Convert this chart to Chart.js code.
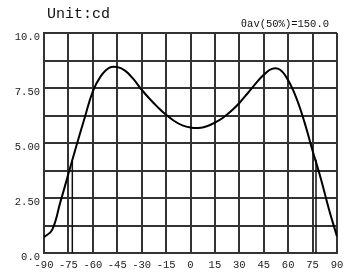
<!DOCTYPE html>
<html>
<head>
<meta charset="utf-8">
<script src="https://cdn.jsdelivr.net/npm/chart.js@4/dist/chart.umd.min.js"></script>
<style>
  html, body { margin: 0; padding: 0; background: #fff; }
  #wrap { width: 352px; height: 273px; }
</style>
</head>
<body>
<div id="wrap"><canvas id="lightChart"></canvas></div>
<script>
// Luminous intensity distribution (cd) vs angle
const angles = [-90, -85, -80, -75, -70, -65, -60, -55, -50, -45, -40, -35, -30, -25, -20, -15, -10, -5, 0, 5, 10, 15, 20, 25, 30, 35, 40, 45, 50, 55, 60, 65, 70, 75, 80, 85, 90];
const intensity = [0.72, 1.05, 2.3, 3.6, 4.9, 6.15, 7.35, 8.05, 8.42, 8.45, 8.28, 7.9, 7.42, 7.0, 6.62, 6.28, 6.0, 5.8, 5.7, 5.68, 5.76, 5.93, 6.15, 6.45, 6.82, 7.25, 7.7, 8.1, 8.37, 8.33, 7.85, 7.05, 5.95, 4.65, 3.4, 2.0, 0.75];

// half-intensity angles (50% of peak)
const halfAngles = [-72.6, 77.1];
const halfValue = 4.24;

const yTickLabels = { '10': '10.0', '7.5': '7.50', '5': '5.00', '2.5': '2.50', '0': '0.0' };
const titleText = 'Unit:cd';
const noteText = 'θav(50%)=150.0';

const gridColor = '#333';
const monoFont = '"Liberation Mono", "DejaVu Sans Mono", monospace';

const curvePoints = angles.map((a, i) => ({ x: a, y: intensity[i] }));

const halfDatasets = halfAngles.map(a => ({
    data: [{ x: a, y: 0 }, { x: a, y: halfValue }],
    borderColor: '#111',
    borderWidth: 1.5,
    pointRadius: 0,
    tension: 0
}));

// header texts drawn above the plot
const headerPlugin = {
    id: 'header',
    afterDraw(chart) {
        const ctx = chart.ctx;
        ctx.save();
        ctx.fillStyle = '#111';
        ctx.textBaseline = 'alphabetic';
        ctx.font = '15px ' + monoFont;
        ctx.textAlign = 'left';
        ctx.fillText(titleText, 47, 18);
        ctx.font = '10.5px ' + monoFont;
        ctx.textAlign = 'right';
        ctx.fillText(noteText, chart.chartArea.right - 8, 27);
        ctx.restore();
    }
};

const ctx = document.getElementById('lightChart').getContext('2d');
const lightChart = new Chart(ctx, {
    type: 'line',
    data: {
        datasets: [{
            data: curvePoints,
            borderColor: '#000',
            borderWidth: 2,
            pointRadius: 0,
            tension: 0.4
        }].concat(halfDatasets)
    },
    options: {
        responsive: true,
        maintainAspectRatio: false,
        animation: false,
        layout: {
            padding: { left: 0, right: 15, top: 33, bottom: 0 }
        },
        plugins: {
            legend: { display: false },
            tooltip: { enabled: false }
        },
        scales: {
            x: {
                type: 'linear',
                min: -90,
                max: 90,
                afterFit: function(scale) { scale.height = 20; },
                border: { color: gridColor, width: 2 },
                grid: { color: gridColor, lineWidth: 2, drawTicks: false },
                ticks: {
                    stepSize: 15,
                    autoSkip: false,
                    maxRotation: 0,
                    padding: 6,
                    color: '#222',
                    font: { family: monoFont, size: 10.5 }
                }
            },
            y: {
                min: 0,
                max: 10,
                afterFit: function(scale) { scale.width = 44; },
                border: { color: gridColor, width: 2 },
                grid: { color: gridColor, lineWidth: 2, drawTicks: false },
                ticks: {
                    stepSize: 1.25,
                    autoSkip: false,
                    padding: 4,
                    labelOffset: 4,
                    color: '#222',
                    font: { family: monoFont, size: 10.5 },
                    callback: function(value) {
                        return yTickLabels[String(value)] || '';
                    }
                }
            }
        }
    },
    plugins: [headerPlugin]
});
</script>
</body>
</html>
